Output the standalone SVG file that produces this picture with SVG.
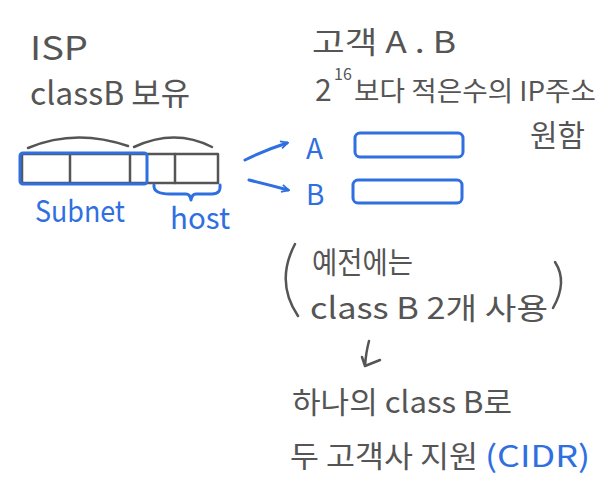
<svg xmlns="http://www.w3.org/2000/svg" width="610" height="490" viewBox="0 0 610 490">
<style>
.t{font-family:"Noto Sans CJK KR","Liberation Sans",sans-serif;fill:#555;font-size:30px}
.b{fill:#2f6fe0}
.g{fill:none;stroke:#555;stroke-width:2.5;stroke-linecap:round;stroke-linejoin:round}
.bl{fill:none;stroke:#2f6fe0;stroke-width:3;stroke-linecap:round;stroke-linejoin:round}
</style>
<defs>
<marker id="ah" viewBox="0 0 10 10" refX="8" refY="5" markerWidth="9" markerHeight="9" orient="auto" markerUnits="userSpaceOnUse">
<path d="M1,1 L9,5 L1,9" fill="none" stroke="#2f6fe0" stroke-width="2"/>
</marker>
</defs>
<rect width="610" height="490" fill="#fff"/>
<g id="isp-title">
<text class="t" x="30" y="60" textLength="58" lengthAdjust="spacingAndGlyphs" style="font-size:33px">ISP</text>
<text class="t" x="30" y="105" textLength="160" lengthAdjust="spacingAndGlyphs" style="font-size:32px">classB 보유</text>
</g>
<g id="address-block">
<path class="g" d="M28,148 Q75,128 128,146"/>
<path class="g" d="M134,147 Q175,128 212,147"/>
<rect class="g" x="22" y="154" width="196" height="29"/>
<line class="g" x1="70" y1="154" x2="70" y2="183"/>
<line class="g" x1="130" y1="154" x2="130" y2="183"/>
<line class="g" x1="175" y1="154" x2="175" y2="183"/>
<rect class="bl" x="20" y="153" width="127" height="31" rx="3"/>
<path class="bl" d="M154,185 Q153,194 170,194 L186,194 Q190,194 191,200 Q192,194 196,194 L212,194 Q221,194 220,185"/>
<text class="t b" x="35" y="222" textLength="90" lengthAdjust="spacingAndGlyphs">Subnet</text>
<text class="t b" x="170" y="229" textLength="60" lengthAdjust="spacingAndGlyphs">host</text>
</g>
<g id="connectors">
<path class="bl" d="M245,160 Q265,150 287,143" marker-end="url(#ah)"/>
<path class="bl" d="M249,180 Q270,185 288,190" marker-end="url(#ah)"/>
<path class="g" d="M369,341 Q366,352 365,366 M362,357 L365,366 L380,360"/>
</g>
<g id="customers">
<text class="t" x="312" y="53" textLength="144" lengthAdjust="spacingAndGlyphs">고객 A . B</text>
<text class="t" x="315" y="101">2</text>
<text class="t" x="334" y="80" style="font-size:16px">16</text>
<text class="t" x="354" y="101" textLength="242" lengthAdjust="spacingAndGlyphs" style="font-size:27px">보다 적은수의 IP주소</text>
<text class="t" x="530" y="146" textLength="55" lengthAdjust="spacingAndGlyphs">원함</text>
</g>
<g id="customer-a">
<text class="t b" x="306" y="159" style="font-size:28px">A</text>
<rect class="bl" x="355" y="133" width="108" height="24" rx="5"/>
</g>
<g id="customer-b">
<text class="t b" x="306" y="205" style="font-size:28px">B</text>
<rect class="bl" x="353" y="180" width="109" height="23" rx="5"/>
</g>
<g id="previous">
<path class="g" d="M295,244 Q275,282 298,316"/>
<path class="g" d="M555,262 Q568,282 553,308"/>
<text class="t" x="312" y="273" textLength="101" lengthAdjust="spacingAndGlyphs">예전에는</text>
<text class="t" x="310" y="319" textLength="238" lengthAdjust="spacingAndGlyphs">class B   2개 사용</text>
</g>
<g id="cidr">
<text class="t" x="292" y="413" textLength="220" lengthAdjust="spacingAndGlyphs">하나의 class B로</text>
<text class="t" x="290" y="467" textLength="188" lengthAdjust="spacingAndGlyphs">두 고객사 지원</text>
<text class="t b" x="485" y="467" textLength="105" lengthAdjust="spacingAndGlyphs">(CIDR)</text>
</g>
</svg>
